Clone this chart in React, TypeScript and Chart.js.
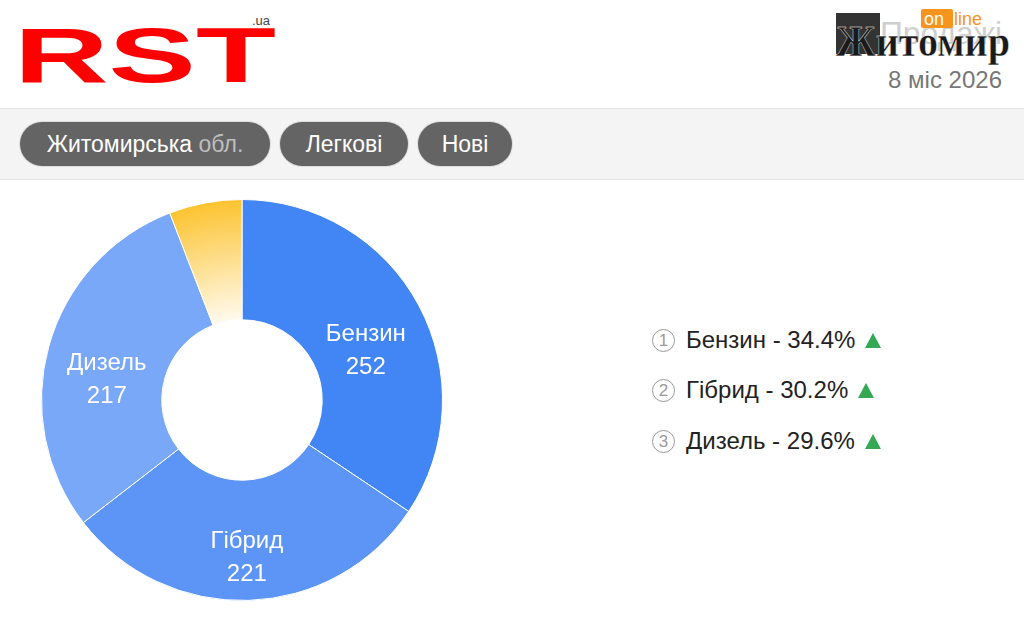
import React, { useEffect, useRef } from "react";
import { Chart, registerables } from "chart.js";

Chart.register(...registerables);

const categories = ["Бензин", "Гібрид", "Дизель", "Інше"];
const values = [252, 221, 217, 43];
const legendNames = ["Бензин", "Гібрид", "Дизель"];
const legendPercents = ["34.4%", "30.2%", "29.6%"];
const filters = ["Житомирська", "Легкові", "Нові"];
const dateLabel = "8 міс 2026";

const FONT = "'Liberation Sans', Arial, sans-serif";

const labelPlugin = {
  id: "sliceLabels",
  afterDatasetsDraw(chart: any) {
    const ctx = chart.ctx;
    const meta = chart.getDatasetMeta(0);
    ctx.save();
    ctx.fillStyle = "#ffffff";
    ctx.font = `24px ${FONT}`;
    ctx.textAlign = "center";
    ctx.textBaseline = "middle";
    meta.data.forEach((arc: any, i: number) => {
      if (i > 2) return;
      const p = arc.tooltipPosition();
      ctx.fillText(categories[i], p.x, p.y + 1);
      ctx.fillText(String(values[i]), p.x, p.y + 34);
    });
    ctx.restore();
  },
};

function Donut() {
  const ref = useRef<HTMLCanvasElement>(null);
  useEffect(() => {
    if (!ref.current) return;
    const chart = new Chart(ref.current, {
      type: "doughnut",
      data: {
        labels: categories,
        datasets: [
          {
            data: values,
            backgroundColor: (c: any) => {
              const i = c.dataIndex;
              const base = ["#4286f5", "#5c95f6", "#78a8f7"];
              if (i < 3) return base[i];
              const ch = c.chart;
              const a = ch.chartArea;
              if (!a) return "#fbc53a";
              const cx = (a.left + a.right) / 2;
              const cy = (a.top + a.bottom) / 2;
              const r = Math.min(a.right - a.left, a.bottom - a.top) / 2;
              const g = ch.ctx.createRadialGradient(cx, cy, r * 0.4, cx, cy, r);
              g.addColorStop(0, "#fffaee");
              g.addColorStop(1, "#fcc32e");
              return g;
            },
            borderColor: "#ffffff",
            borderWidth: 1,
          },
        ],
      },
      options: {
        animation: false,
        responsive: false,
        cutout: "40%",
        layout: { padding: 0 },
        plugins: { legend: { display: false }, tooltip: { enabled: false } },
      },
      plugins: [labelPlugin],
    });
    return () => chart.destroy();
  }, []);
  return (
    <canvas
      ref={ref}
      width={402}
      height={402}
      style={{ position: "absolute", left: 41, top: 199, width: 402, height: 402 }}
    />
  );
}

const pillStyle: React.CSSProperties = {
  position: "absolute",
  top: 122,
  height: 44,
  borderRadius: 22,
  background: "#646464",
  color: "#ffffff",
  fontSize: 23,
  lineHeight: "44px",
  textAlign: "center",
  boxShadow: "0 0 0 1px #dcdcdc",
  fontFamily: FONT,
  whiteSpace: "nowrap",
};

export default function App() {
  const pillPos = [
    { left: 20, width: 250 },
    { left: 280, width: 128 },
    { left: 418, width: 94 },
  ];
  const rowsY = [340, 390, 441];
  return (
    <div
      style={{
        position: "absolute",
        left: 0,
        top: 0,
        width: 1024,
        height: 632,
        background: "#ffffff",
        overflow: "hidden",
        fontFamily: FONT,
      }}
    >
      {/* RST logo */}
      <svg width={300} height={100} style={{ position: "absolute", left: 0, top: 0 }}>
        <text
          x={14}
          y={82}
          textLength={262}
          lengthAdjust="spacingAndGlyphs"
          fontSize={78}
          fontWeight="bold"
          fontFamily="'Liberation Sans', Arial, sans-serif"
          fill="#ff0000"
        >
          RST
        </text>
        <text x={252} y={25} fontSize={13} fill="#444" fontFamily="'Liberation Sans', Arial, sans-serif">
          .ua
        </text>
      </svg>

      {/* Right logo */}
      <svg width={204} height={100} style={{ position: "absolute", left: 820, top: 0 }}>
        <text
          x={60}
          y={44}
          textLength={122}
          lengthAdjust="spacingAndGlyphs"
          fontSize={32}
          fill="#cfcfcf"
          fontFamily="'Liberation Sans', Arial, sans-serif"
        >
          Продажі
        </text>
        <rect x={16} y={13} width={44} height={41} fill="#333333" />
        <rect x={101} y={9} width={32} height={19} rx={2} fill="#f7941d" />
        <text x={104} y={25} fontSize={18} fill="#ffffff" fontFamily="'Liberation Sans', Arial, sans-serif">
          on
        </text>
        <text x={134} y={25} fontSize={18} fill="#f7941d" fontFamily="'Liberation Sans', Arial, sans-serif">
          line
        </text>
        <text
          x={16}
          y={56}
          textLength={174}
          lengthAdjust="spacingAndGlyphs"
          fontSize={44}
          fontWeight="bold"
          fontFamily="'Liberation Serif', 'DejaVu Serif', serif"
          fill="#1a1a1a"
          stroke="#ffffff"
          strokeWidth={0.4}
        >
          Житомир
        </text>
      </svg>
      <div
        style={{
          position: "absolute",
          right: 22,
          top: 66,
          fontSize: 24,
          color: "#777777",
          whiteSpace: "nowrap",
        }}
      >
        {dateLabel}
      </div>

      {/* Filter bar */}
      <div
        style={{
          position: "absolute",
          left: 0,
          top: 108,
          width: 1024,
          height: 72,
          background: "#f4f4f4",
          borderTop: "1px solid #e6e6e6",
          borderBottom: "1px solid #e6e6e6",
          boxSizing: "border-box",
        }}
      />
      {filters.map((f, i) => (
        <div key={f} style={{ ...pillStyle, left: pillPos[i].left, width: pillPos[i].width }}>
          {f}
          {i === 0 ? <span style={{ color: "#bdbdbd" }}> обл.</span> : null}
        </div>
      ))}

      <Donut />

      {/* Ranking list */}
      {legendNames.map((n, i) => (
        <div
          key={n}
          style={{
            position: "absolute",
            left: 652,
            top: rowsY[i] - 14,
            height: 28,
            display: "flex",
            alignItems: "center",
            whiteSpace: "nowrap",
          }}
        >
          <div
            style={{
              width: 21,
              height: 21,
              borderRadius: "50%",
              border: "1.5px solid #9a9a9a",
              color: "#9a9a9a",
              fontSize: 17,
              lineHeight: "21px",
              textAlign: "center",
              marginRight: 11,
            }}
          >
            {i + 1}
          </div>
          <span style={{ fontSize: 24, color: "#222222" }}>
            {n} - {legendPercents[i]}
          </span>
          <div
            style={{
              width: 0,
              height: 0,
              marginLeft: 10,
              borderLeft: "8px solid transparent",
              borderRight: "8px solid transparent",
              borderBottom: "15px solid #34a853",
            }}
          />
        </div>
      ))}
    </div>
  );
}
